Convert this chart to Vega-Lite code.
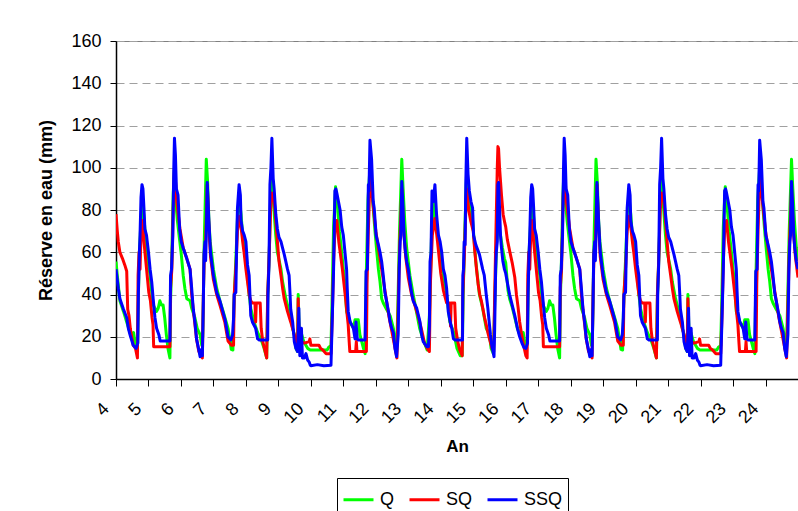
{
"$schema":"https://vega.github.io/schema/vega-lite/v6.json",
"width":682,"height":338,
"autosize":{"type":"none"},
"padding":{"left":116,"top":41,"right":0,"bottom":132},
"background":"white",
"config":{"font":"Liberation Sans","view":{"stroke":"#808080","strokeWidth":1},
"axis":{"labelFont":"Liberation Sans","titleFont":"Liberation Sans","labelColor":"#000","titleColor":"#000","domainColor":"#000","tickColor":"#000"}},
"datasets":{
"q":[
{"t":4.00,"v":55.6},{"t":4.04,"v":49},{"t":4.12,"v":37},{"t":4.23,"v":32},{"t":4.33,"v":27},{"t":4.43,"v":22},{"t":4.48,"v":21},{"t":4.52,"v":19},{"t":4.54,"v":22},{"t":4.58,"v":18},{"t":4.62,"v":16},{"t":4.67,"v":17},{"t":4.69,"v":40},{"t":4.72,"v":60},{"t":4.77,"v":75},{"t":4.80,"v":85},{"t":4.84,"v":80},{"t":4.89,"v":71},{"t":4.99,"v":55},{"t":5.05,"v":49},{"t":5.10,"v":41},{"t":5.15,"v":35},{"t":5.25,"v":32},{"t":5.30,"v":33.5},{"t":5.35,"v":37},{"t":5.40,"v":35},{"t":5.45,"v":35},{"t":5.50,"v":29},{"t":5.55,"v":21},{"t":5.60,"v":14.5},{"t":5.66,"v":10},{"t":5.68,"v":37},{"t":5.71,"v":52},{"t":5.76,"v":87},{"t":5.80,"v":100},{"t":5.84,"v":84},{"t":5.89,"v":75},{"t":5.95,"v":67},{"t":6.01,"v":59},{"t":6.07,"v":49},{"t":6.12,"v":43},{"t":6.18,"v":38},{"t":6.28,"v":37},{"t":6.33,"v":33.5},{"t":6.43,"v":29},{"t":6.50,"v":24},{"t":6.56,"v":22},{"t":6.59,"v":21},{"t":6.64,"v":16},{"t":6.67,"v":20},{"t":6.69,"v":37},{"t":6.71,"v":60},{"t":6.78,"v":104},{"t":6.82,"v":93.5},{"t":6.86,"v":75},{"t":6.90,"v":65},{"t":7.00,"v":52},{"t":7.10,"v":43},{"t":7.20,"v":37},{"t":7.30,"v":32},{"t":7.45,"v":24},{"t":7.55,"v":14},{"t":7.60,"v":13.7},{"t":7.63,"v":35},{"t":7.70,"v":60},{"t":7.75,"v":80},{"t":7.80,"v":85},{"t":7.85,"v":78},{"t":7.90,"v":68},{"t":8.00,"v":55.6},{"t":8.05,"v":49},{"t":8.10,"v":40},{"t":8.15,"v":33.5},{"t":8.25,"v":27},{"t":8.36,"v":22},{"t":8.46,"v":19},{"t":8.56,"v":14.5},{"t":8.64,"v":10},{"t":8.67,"v":37},{"t":8.72,"v":60},{"t":8.76,"v":85},{"t":8.80,"v":95},{"t":8.86,"v":81},{"t":8.92,"v":68},{"t":8.97,"v":60},{"t":9.08,"v":52},{"t":9.13,"v":46},{"t":9.23,"v":38},{"t":9.33,"v":32},{"t":9.44,"v":24},{"t":9.49,"v":21},{"t":9.54,"v":14.5},{"t":9.59,"v":13},{"t":9.61,"v":40},{"t":9.64,"v":24},{"t":9.70,"v":22},{"t":9.78,"v":17.7},{"t":9.90,"v":14.5},{"t":9.98,"v":13.7},{"t":10.50,"v":13.7},{"t":10.55,"v":15},{"t":10.62,"v":15.8},{"t":10.65,"v":35},{"t":10.70,"v":72},{"t":10.76,"v":91},{"t":10.80,"v":85},{"t":10.88,"v":70},{"t":10.95,"v":60},{"t":11.00,"v":52},{"t":11.05,"v":45},{"t":11.10,"v":32},{"t":11.21,"v":27},{"t":11.31,"v":24},{"t":11.36,"v":28},{"t":11.46,"v":28},{"t":11.51,"v":21},{"t":11.62,"v":14.5},{"t":11.67,"v":12},{"t":11.70,"v":45},{"t":11.76,"v":85},{"t":11.82,"v":100},{"t":11.87,"v":92},{"t":11.92,"v":81},{"t":11.97,"v":71},{"t":12.02,"v":62},{"t":12.08,"v":52},{"t":12.13,"v":46},{"t":12.18,"v":38},{"t":12.23,"v":36},{"t":12.33,"v":33},{"t":12.44,"v":30},{"t":12.49,"v":27},{"t":12.54,"v":24},{"t":12.59,"v":18},{"t":12.64,"v":13},{"t":12.68,"v":35},{"t":12.73,"v":70},{"t":12.80,"v":104},{"t":12.84,"v":90},{"t":12.89,"v":75},{"t":12.95,"v":62},{"t":13.05,"v":49},{"t":13.15,"v":40},{"t":13.25,"v":32},{"t":13.35,"v":24},{"t":13.45,"v":19},{"t":13.58,"v":13.7},{"t":13.65,"v":30},{"t":13.72,"v":70},{"t":13.80,"v":85},{"t":13.87,"v":71},{"t":13.98,"v":62},{"t":14.08,"v":49},{"t":14.18,"v":40},{"t":14.28,"v":27},{"t":14.40,"v":22},{"t":14.50,"v":14.5},{"t":14.60,"v":11},{"t":14.66,"v":11},{"t":14.69,"v":40},{"t":14.74,"v":70},{"t":14.80,"v":100},{"t":14.86,"v":85},{"t":14.98,"v":75},{"t":15.08,"v":55.6},{"t":15.19,"v":40},{"t":15.29,"v":33.5},{"t":15.40,"v":24},{"t":15.50,"v":21},{"t":15.55,"v":14.5},{"t":15.62,"v":12},{"t":15.66,"v":35},{"t":15.72,"v":65},{"t":15.78,"v":73},{"t":15.84,"v":68},{"t":15.90,"v":62},{"t":15.96,"v":57},
{"t":16.00,"v":55},{"t":16.07,"v":42},{"t":16.12,"v":38},{"t":16.20,"v":34},{"t":16.28,"v":29},{"t":16.36,"v":24},{"t":16.43,"v":21},{"t":16.50,"v":19},{"t":16.54,"v":22},{"t":16.58,"v":18},{"t":16.62,"v":16},{"t":16.67,"v":17},{"t":16.69,"v":40},{"t":16.72,"v":60},{"t":16.77,"v":75},{"t":16.80,"v":85},{"t":16.84,"v":80},{"t":16.89,"v":71},{"t":16.99,"v":55},{"t":17.05,"v":49},{"t":17.10,"v":41},{"t":17.15,"v":35},{"t":17.25,"v":32},{"t":17.30,"v":33.5},{"t":17.35,"v":37},{"t":17.40,"v":35},{"t":17.45,"v":35},{"t":17.50,"v":29},{"t":17.55,"v":21},{"t":17.60,"v":14.5},{"t":17.66,"v":10},{"t":17.68,"v":37},{"t":17.71,"v":52},{"t":17.76,"v":87},{"t":17.80,"v":100},{"t":17.84,"v":84},{"t":17.89,"v":75},{"t":17.95,"v":67},{"t":18.01,"v":59},{"t":18.07,"v":49},{"t":18.12,"v":43},{"t":18.18,"v":38},{"t":18.28,"v":37},{"t":18.33,"v":33.5},{"t":18.43,"v":29},{"t":18.50,"v":24},{"t":18.56,"v":22},{"t":18.59,"v":21},{"t":18.64,"v":16},{"t":18.67,"v":20},{"t":18.69,"v":37},{"t":18.71,"v":60},{"t":18.78,"v":104},{"t":18.82,"v":93.5},{"t":18.86,"v":75},{"t":18.90,"v":65},{"t":19.00,"v":52},{"t":19.10,"v":43},{"t":19.20,"v":37},{"t":19.30,"v":32},{"t":19.45,"v":24},{"t":19.55,"v":14},{"t":19.60,"v":13.7},{"t":19.63,"v":35},{"t":19.70,"v":60},{"t":19.75,"v":80},{"t":19.80,"v":85},{"t":19.85,"v":78},{"t":19.90,"v":68},{"t":20.00,"v":55.6},{"t":20.05,"v":49},{"t":20.10,"v":40},{"t":20.15,"v":33.5},{"t":20.25,"v":27},{"t":20.36,"v":22},{"t":20.46,"v":19},{"t":20.56,"v":14.5},{"t":20.64,"v":10},{"t":20.67,"v":37},{"t":20.72,"v":60},{"t":20.76,"v":85},{"t":20.80,"v":95},{"t":20.86,"v":81},{"t":20.92,"v":68},{"t":20.97,"v":60},{"t":21.08,"v":52},{"t":21.13,"v":46},{"t":21.23,"v":38},{"t":21.33,"v":32},{"t":21.44,"v":24},{"t":21.49,"v":21},{"t":21.54,"v":14.5},{"t":21.59,"v":13},{"t":21.61,"v":40},{"t":21.64,"v":24},{"t":21.70,"v":22},{"t":21.78,"v":17.7},{"t":21.90,"v":14.5},{"t":21.98,"v":13.7},{"t":22.50,"v":13.7},{"t":22.55,"v":15},{"t":22.62,"v":15.8},{"t":22.65,"v":35},{"t":22.70,"v":72},{"t":22.76,"v":91},{"t":22.80,"v":85},{"t":22.88,"v":70},{"t":22.95,"v":60},{"t":23.00,"v":52},{"t":23.05,"v":45},{"t":23.10,"v":32},{"t":23.21,"v":27},{"t":23.31,"v":24},{"t":23.36,"v":28},{"t":23.46,"v":28},{"t":23.51,"v":21},{"t":23.62,"v":14.5},{"t":23.67,"v":12},{"t":23.70,"v":45},{"t":23.76,"v":85},{"t":23.82,"v":100},{"t":23.87,"v":92},{"t":23.92,"v":81},{"t":23.97,"v":71},{"t":24.02,"v":62},{"t":24.08,"v":52},{"t":24.13,"v":46},{"t":24.18,"v":38},{"t":24.23,"v":36},{"t":24.33,"v":33},{"t":24.44,"v":30},{"t":24.49,"v":27},{"t":24.54,"v":24},{"t":24.59,"v":18},{"t":24.64,"v":13},{"t":24.68,"v":35},{"t":24.73,"v":70},{"t":24.80,"v":104},{"t":24.84,"v":90},{"t":24.89,"v":75},{"t":24.95,"v":62},{"t":25.00,"v":56}
],
"sq":[
{"t":4.00,"v":78},{"t":4.04,"v":70},{"t":4.07,"v":65},{"t":4.12,"v":60},{"t":4.20,"v":57},{"t":4.27,"v":54},{"t":4.33,"v":51},{"t":4.36,"v":33},{"t":4.40,"v":30},{"t":4.44,"v":24},{"t":4.47,"v":21},{"t":4.53,"v":16},{"t":4.60,"v":14.5},{"t":4.66,"v":10},{"t":4.68,"v":49},{"t":4.71,"v":60},{"t":4.74,"v":52},{"t":4.77,"v":68},{"t":4.81,"v":75},{"t":4.86,"v":65},{"t":4.91,"v":57},{"t":4.96,"v":49},{"t":5.01,"v":41},{"t":5.06,"v":37},{"t":5.11,"v":29},{"t":5.14,"v":25.6},{"t":5.16,"v":15.3},{"t":5.66,"v":15.3},{"t":5.68,"v":43},{"t":5.72,"v":52},{"t":5.76,"v":80},{"t":5.80,"v":100},{"t":5.84,"v":92},{"t":5.87,"v":84},{"t":5.97,"v":71},{"t":6.07,"v":62},{"t":6.18,"v":57},{"t":6.28,"v":52},{"t":6.33,"v":40},{"t":6.40,"v":30},{"t":6.48,"v":19},{"t":6.55,"v":13},{"t":6.62,"v":11.4},{"t":6.66,"v":10},{"t":6.69,"v":40},{"t":6.72,"v":60},{"t":6.76,"v":65},{"t":6.81,"v":92},{"t":6.86,"v":72},{"t":6.91,"v":58},{"t":7.00,"v":47},{"t":7.10,"v":40},{"t":7.20,"v":35},{"t":7.35,"v":27},{"t":7.45,"v":18},{"t":7.55,"v":16},{"t":7.62,"v":16},{"t":7.64,"v":40},{"t":7.70,"v":55},{"t":7.74,"v":70},{"t":7.80,"v":77},{"t":7.85,"v":72},{"t":7.90,"v":65},{"t":7.95,"v":59},{"t":8.00,"v":52},{"t":8.05,"v":46},{"t":8.10,"v":40},{"t":8.15,"v":37},{"t":8.20,"v":36},{"t":8.28,"v":36},{"t":8.30,"v":27},{"t":8.32,"v":36},{"t":8.44,"v":36},{"t":8.47,"v":24},{"t":8.52,"v":17.7},{"t":8.57,"v":14.5},{"t":8.64,"v":10},{"t":8.67,"v":40},{"t":8.72,"v":60},{"t":8.76,"v":80},{"t":8.80,"v":88},{"t":8.86,"v":87},{"t":8.92,"v":75},{"t":8.97,"v":65},{"t":9.02,"v":55.6},{"t":9.08,"v":49},{"t":9.13,"v":43},{"t":9.18,"v":38},{"t":9.28,"v":32},{"t":9.38,"v":27},{"t":9.49,"v":21},{"t":9.54,"v":18},{"t":9.59,"v":15},{"t":9.61,"v":38},{"t":9.63,"v":21},{"t":9.70,"v":17.7},{"t":9.80,"v":17},{"t":9.95,"v":17.7},{"t":9.97,"v":19},{"t":10.00,"v":16},{"t":10.25,"v":16},{"t":10.30,"v":14.5},{"t":10.37,"v":13.7},{"t":10.47,"v":12},{"t":10.62,"v":12},{"t":10.66,"v":30},{"t":10.70,"v":55},{"t":10.74,"v":70},{"t":10.80,"v":75},{"t":10.86,"v":65},{"t":10.92,"v":58},{"t":10.97,"v":52},{"t":11.02,"v":45},{"t":11.07,"v":38},{"t":11.12,"v":30},{"t":11.15,"v":25.6},{"t":11.18,"v":17.7},{"t":11.20,"v":13},{"t":11.38,"v":13},{"t":11.40,"v":17.7},{"t":11.42,"v":13},{"t":11.71,"v":13},{"t":11.73,"v":45},{"t":11.77,"v":70},{"t":11.82,"v":95},{"t":11.87,"v":90},{"t":11.92,"v":82},{"t":12.00,"v":70},{"t":12.10,"v":60},{"t":12.20,"v":50},{"t":12.30,"v":40},{"t":12.40,"v":30},{"t":12.50,"v":22},{"t":12.60,"v":14},{"t":12.65,"v":10},{"t":12.69,"v":35},{"t":12.73,"v":60},{"t":12.80,"v":90},{"t":12.86,"v":70},{"t":12.92,"v":58},{"t":13.00,"v":48},{"t":13.10,"v":40},{"t":13.20,"v":35},{"t":13.30,"v":30},{"t":13.40,"v":24},{"t":13.50,"v":17},{"t":13.60,"v":14},{"t":13.65,"v":13},{"t":13.68,"v":45},{"t":13.74,"v":68},{"t":13.82,"v":76},{"t":13.90,"v":65},{"t":14.00,"v":50},{"t":14.08,"v":42},{"t":14.18,"v":36},{"t":14.28,"v":36},{"t":14.30,"v":25},{"t":14.32,"v":36},{"t":14.43,"v":36},{"t":14.46,"v":24},{"t":14.52,"v":18},{"t":14.58,"v":14},{"t":14.66,"v":11},{"t":14.68,"v":40},{"t":14.73,"v":60},{"t":14.78,"v":85},{"t":14.80,"v":90},{"t":14.86,"v":80},{"t":14.92,"v":75},{"t":15.00,"v":70},{"t":15.05,"v":60},{"t":15.10,"v":52},{"t":15.15,"v":45},{"t":15.20,"v":40},{"t":15.25,"v":37},{"t":15.30,"v":33},{"t":15.35,"v":29},{"t":15.40,"v":25.6},{"t":15.45,"v":22},{"t":15.50,"v":19},{"t":15.58,"v":14.5},{"t":15.63,"v":13},{"t":15.66,"v":40},{"t":15.70,"v":70},{"t":15.74,"v":100},{"t":15.76,"v":110},{"t":15.78,"v":109},{"t":15.81,"v":100},{"t":15.84,"v":93.5},{"t":15.87,"v":87},{"t":15.92,"v":78},{"t":15.97,"v":74},
{"t":16.00,"v":72},{"t":16.05,"v":66},{"t":16.13,"v":60},{"t":16.20,"v":55},{"t":16.28,"v":48},{"t":16.33,"v":40},{"t":16.38,"v":34},{"t":16.43,"v":27},{"t":16.48,"v":22},{"t":16.55,"v":16},{"t":16.62,"v":11},{"t":16.66,"v":10},{"t":16.68,"v":49},{"t":16.71,"v":60},{"t":16.74,"v":52},{"t":16.77,"v":68},{"t":16.81,"v":75},{"t":16.86,"v":65},{"t":16.91,"v":57},{"t":16.96,"v":49},{"t":17.01,"v":41},{"t":17.06,"v":37},{"t":17.11,"v":29},{"t":17.14,"v":25.6},{"t":17.16,"v":15.3},{"t":17.66,"v":15.3},{"t":17.68,"v":43},{"t":17.72,"v":52},{"t":17.76,"v":80},{"t":17.80,"v":100},{"t":17.84,"v":92},{"t":17.87,"v":84},{"t":17.97,"v":71},{"t":18.07,"v":62},{"t":18.18,"v":57},{"t":18.28,"v":52},{"t":18.33,"v":40},{"t":18.40,"v":30},{"t":18.48,"v":19},{"t":18.55,"v":13},{"t":18.62,"v":11.4},{"t":18.66,"v":10},{"t":18.69,"v":40},{"t":18.72,"v":60},{"t":18.76,"v":65},{"t":18.81,"v":92},{"t":18.86,"v":72},{"t":18.91,"v":58},{"t":19.00,"v":47},{"t":19.10,"v":40},{"t":19.20,"v":35},{"t":19.35,"v":27},{"t":19.45,"v":18},{"t":19.55,"v":16},{"t":19.62,"v":16},{"t":19.64,"v":40},{"t":19.70,"v":55},{"t":19.74,"v":70},{"t":19.80,"v":77},{"t":19.85,"v":72},{"t":19.90,"v":65},{"t":19.95,"v":59},{"t":20.00,"v":52},{"t":20.05,"v":46},{"t":20.10,"v":40},{"t":20.15,"v":37},{"t":20.20,"v":36},{"t":20.28,"v":36},{"t":20.30,"v":27},{"t":20.32,"v":36},{"t":20.44,"v":36},{"t":20.47,"v":24},{"t":20.52,"v":17.7},{"t":20.57,"v":14.5},{"t":20.64,"v":10},{"t":20.67,"v":40},{"t":20.72,"v":60},{"t":20.76,"v":80},{"t":20.80,"v":88},{"t":20.86,"v":87},{"t":20.92,"v":75},{"t":20.97,"v":65},{"t":21.02,"v":55.6},{"t":21.08,"v":49},{"t":21.13,"v":43},{"t":21.18,"v":38},{"t":21.28,"v":32},{"t":21.38,"v":27},{"t":21.49,"v":21},{"t":21.54,"v":18},{"t":21.59,"v":15},{"t":21.61,"v":38},{"t":21.63,"v":21},{"t":21.70,"v":17.7},{"t":21.80,"v":17},{"t":21.95,"v":17.7},{"t":21.97,"v":19},{"t":22.00,"v":16},{"t":22.25,"v":16},{"t":22.30,"v":14.5},{"t":22.37,"v":13.7},{"t":22.47,"v":12},{"t":22.62,"v":12},{"t":22.66,"v":30},{"t":22.70,"v":55},{"t":22.74,"v":70},{"t":22.80,"v":75},{"t":22.86,"v":65},{"t":22.92,"v":58},{"t":22.97,"v":52},{"t":23.02,"v":45},{"t":23.07,"v":38},{"t":23.12,"v":30},{"t":23.15,"v":25.6},{"t":23.18,"v":17.7},{"t":23.20,"v":13},{"t":23.38,"v":13},{"t":23.40,"v":17.7},{"t":23.42,"v":13},{"t":23.71,"v":13},{"t":23.73,"v":45},{"t":23.77,"v":70},{"t":23.82,"v":95},{"t":23.87,"v":90},{"t":23.92,"v":82},{"t":24.00,"v":70},{"t":24.10,"v":60},{"t":24.20,"v":50},{"t":24.30,"v":40},{"t":24.40,"v":30},{"t":24.50,"v":22},{"t":24.60,"v":14},{"t":24.65,"v":10},{"t":24.69,"v":35},{"t":24.73,"v":60},{"t":24.80,"v":90},{"t":24.86,"v":70},{"t":24.92,"v":58},{"t":25.00,"v":48}
],
"ssq":[
{"t":4.00,"v":52},{"t":4.07,"v":43},{"t":4.12,"v":38},{"t":4.23,"v":33},{"t":4.33,"v":29},{"t":4.38,"v":24},{"t":4.43,"v":21},{"t":4.53,"v":16},{"t":4.62,"v":14.5},{"t":4.67,"v":17},{"t":4.69,"v":41},{"t":4.72,"v":60},{"t":4.74,"v":68},{"t":4.77,"v":86},{"t":4.80,"v":92},{"t":4.83,"v":90},{"t":4.86,"v":81},{"t":4.89,"v":71},{"t":4.94,"v":68},{"t":5.00,"v":60},{"t":5.05,"v":52},{"t":5.10,"v":46},{"t":5.15,"v":37},{"t":5.20,"v":29},{"t":5.25,"v":24},{"t":5.32,"v":21},{"t":5.36,"v":18},{"t":5.66,"v":18},{"t":5.68,"v":49},{"t":5.71,"v":52},{"t":5.75,"v":68},{"t":5.78,"v":100},{"t":5.80,"v":114},{"t":5.83,"v":106},{"t":5.86,"v":90},{"t":5.91,"v":87},{"t":5.96,"v":71},{"t":6.01,"v":65},{"t":6.07,"v":62},{"t":6.18,"v":57},{"t":6.28,"v":52},{"t":6.33,"v":43},{"t":6.38,"v":33},{"t":6.43,"v":27},{"t":6.48,"v":19},{"t":6.54,"v":14.5},{"t":6.59,"v":10.5},{"t":6.63,"v":14},{"t":6.66,"v":11},{"t":6.69,"v":37},{"t":6.71,"v":59},{"t":6.74,"v":65},{"t":6.76,"v":56},{"t":6.78,"v":68},{"t":6.81,"v":93},{"t":6.86,"v":75},{"t":6.91,"v":60},{"t":7.00,"v":49},{"t":7.10,"v":41},{"t":7.20,"v":37},{"t":7.36,"v":28},{"t":7.45,"v":20},{"t":7.54,"v":18.5},{"t":7.59,"v":21},{"t":7.62,"v":29},{"t":7.64,"v":40},{"t":7.69,"v":41},{"t":7.72,"v":68},{"t":7.74,"v":81},{"t":7.79,"v":92},{"t":7.83,"v":87},{"t":7.85,"v":75},{"t":7.90,"v":70},{"t":7.95,"v":68},{"t":8.00,"v":65},{"t":8.05,"v":54},{"t":8.10,"v":49},{"t":8.15,"v":30},{"t":8.20,"v":27},{"t":8.30,"v":24},{"t":8.36,"v":19},{"t":8.41,"v":18.5},{"t":8.67,"v":18.5},{"t":8.68,"v":40},{"t":8.71,"v":54},{"t":8.74,"v":92},{"t":8.77,"v":100},{"t":8.80,"v":114},{"t":8.84,"v":95},{"t":8.87,"v":90},{"t":8.92,"v":78},{"t":8.97,"v":71},{"t":9.02,"v":67},{"t":9.08,"v":65},{"t":9.13,"v":62},{"t":9.18,"v":59},{"t":9.23,"v":55.6},{"t":9.28,"v":52},{"t":9.33,"v":49},{"t":9.36,"v":40},{"t":9.38,"v":33},{"t":9.44,"v":27},{"t":9.49,"v":17.7},{"t":9.54,"v":14.5},{"t":9.59,"v":13},{"t":9.61,"v":21},{"t":9.63,"v":33.5},{"t":9.66,"v":11},{"t":9.71,"v":24},{"t":9.74,"v":10},{"t":9.80,"v":10},{"t":9.85,"v":12},{"t":9.90,"v":9},{"t":9.95,"v":8},{"t":9.98,"v":6.6},{"t":10.00,"v":6.3},{"t":10.20,"v":6.8},{"t":10.40,"v":6.3},{"t":10.62,"v":6.5},{"t":10.66,"v":29},{"t":10.70,"v":52},{"t":10.74,"v":89},{"t":10.77,"v":90},{"t":10.80,"v":88},{"t":10.85,"v":84},{"t":10.90,"v":80},{"t":10.95,"v":72},{"t":11.00,"v":68},{"t":11.05,"v":60},{"t":11.10,"v":52},{"t":11.12,"v":43},{"t":11.15,"v":32},{"t":11.21,"v":27},{"t":11.26,"v":25.6},{"t":11.31,"v":24},{"t":11.36,"v":19},{"t":11.39,"v":27},{"t":11.43,"v":19},{"t":11.46,"v":18.5},{"t":11.67,"v":18.5},{"t":11.70,"v":51},{"t":11.74,"v":52},{"t":11.77,"v":92},{"t":11.79,"v":89},{"t":11.82,"v":113},{"t":11.87,"v":104},{"t":11.90,"v":92},{"t":11.92,"v":84},{"t":11.95,"v":81},{"t":12.01,"v":68},{"t":12.08,"v":63.5},{"t":12.13,"v":60},{"t":12.18,"v":55.6},{"t":12.23,"v":49},{"t":12.28,"v":41},{"t":12.33,"v":37},{"t":12.39,"v":32},{"t":12.44,"v":27},{"t":12.49,"v":24},{"t":12.54,"v":22},{"t":12.59,"v":14.5},{"t":12.64,"v":10.6},{"t":12.69,"v":21},{"t":12.72,"v":52},{"t":12.75,"v":65},{"t":12.77,"v":68},{"t":12.80,"v":93.5},{"t":12.83,"v":84},{"t":12.87,"v":68},{"t":12.90,"v":62},{"t":12.95,"v":55.6},{"t":13.00,"v":52},{"t":13.05,"v":46},{"t":13.10,"v":41},{"t":13.15,"v":37},{"t":13.26,"v":33.5},{"t":13.36,"v":27},{"t":13.41,"v":21},{"t":13.46,"v":17.7},{"t":13.57,"v":15.3},{"t":13.62,"v":15.3},{"t":13.65,"v":25},{"t":13.67,"v":55.6},{"t":13.70,"v":60},{"t":13.73,"v":89},{"t":13.77,"v":84},{"t":13.82,"v":92},{"t":13.87,"v":78},{"t":13.93,"v":68},{"t":13.98,"v":65},{"t":14.03,"v":60},{"t":14.08,"v":52},{"t":14.13,"v":49},{"t":14.18,"v":43},{"t":14.23,"v":32},{"t":14.29,"v":27},{"t":14.34,"v":24},{"t":14.39,"v":19},{"t":14.44,"v":18.5},{"t":14.67,"v":18.5},{"t":14.68,"v":49},{"t":14.70,"v":52},{"t":14.72,"v":65},{"t":14.75,"v":63.5},{"t":14.77,"v":92},{"t":14.80,"v":114},{"t":14.84,"v":97},{"t":14.88,"v":89},{"t":14.93,"v":84},{"t":14.98,"v":81},{"t":15.01,"v":68},{"t":15.08,"v":63.5},{"t":15.19,"v":59},{"t":15.24,"v":55.6},{"t":15.29,"v":52},{"t":15.34,"v":49},{"t":15.40,"v":40},{"t":15.45,"v":33.5},{"t":15.50,"v":25.6},{"t":15.53,"v":21},{"t":15.57,"v":16},{"t":15.64,"v":10.6},{"t":15.66,"v":24},{"t":15.69,"v":52},{"t":15.71,"v":60},{"t":15.74,"v":65},{"t":15.76,"v":92},{"t":15.78,"v":93},{"t":15.81,"v":81},{"t":15.84,"v":68},{"t":15.86,"v":63.5},{"t":15.91,"v":56},{"t":15.96,"v":52},
{"t":16.00,"v":50},{"t":16.07,"v":44},{"t":16.12,"v":40},{"t":16.20,"v":35},{"t":16.28,"v":30},{"t":16.36,"v":24},{"t":16.43,"v":20},{"t":16.50,"v":17},{"t":16.56,"v":15},{"t":16.62,"v":14.5},{"t":16.67,"v":17},{"t":16.69,"v":41},{"t":16.72,"v":60},{"t":16.74,"v":68},{"t":16.77,"v":86},{"t":16.80,"v":92},{"t":16.83,"v":90},{"t":16.86,"v":81},{"t":16.89,"v":71},{"t":16.94,"v":68},{"t":17.00,"v":60},{"t":17.05,"v":52},{"t":17.10,"v":46},{"t":17.15,"v":37},{"t":17.20,"v":29},{"t":17.25,"v":24},{"t":17.32,"v":21},{"t":17.36,"v":18},{"t":17.66,"v":18},{"t":17.68,"v":49},{"t":17.71,"v":52},{"t":17.75,"v":68},{"t":17.78,"v":100},{"t":17.80,"v":114},{"t":17.83,"v":106},{"t":17.86,"v":90},{"t":17.91,"v":87},{"t":17.96,"v":71},{"t":18.01,"v":65},{"t":18.07,"v":62},{"t":18.18,"v":57},{"t":18.28,"v":52},{"t":18.33,"v":43},{"t":18.38,"v":33},{"t":18.43,"v":27},{"t":18.48,"v":19},{"t":18.54,"v":14.5},{"t":18.59,"v":10.5},{"t":18.63,"v":14},{"t":18.66,"v":11},{"t":18.69,"v":37},{"t":18.71,"v":59},{"t":18.74,"v":65},{"t":18.76,"v":56},{"t":18.78,"v":68},{"t":18.81,"v":93},{"t":18.86,"v":75},{"t":18.91,"v":60},{"t":19.00,"v":49},{"t":19.10,"v":41},{"t":19.20,"v":37},{"t":19.36,"v":28},{"t":19.45,"v":20},{"t":19.54,"v":18.5},{"t":19.59,"v":21},{"t":19.62,"v":29},{"t":19.64,"v":40},{"t":19.69,"v":41},{"t":19.72,"v":68},{"t":19.74,"v":81},{"t":19.79,"v":92},{"t":19.83,"v":87},{"t":19.85,"v":75},{"t":19.90,"v":70},{"t":19.95,"v":68},{"t":20.00,"v":65},{"t":20.05,"v":54},{"t":20.10,"v":49},{"t":20.15,"v":30},{"t":20.20,"v":27},{"t":20.30,"v":24},{"t":20.36,"v":19},{"t":20.41,"v":18.5},{"t":20.67,"v":18.5},{"t":20.68,"v":40},{"t":20.71,"v":54},{"t":20.74,"v":92},{"t":20.77,"v":100},{"t":20.80,"v":114},{"t":20.84,"v":95},{"t":20.87,"v":90},{"t":20.92,"v":78},{"t":20.97,"v":71},{"t":21.02,"v":67},{"t":21.08,"v":65},{"t":21.13,"v":62},{"t":21.18,"v":59},{"t":21.23,"v":55.6},{"t":21.28,"v":52},{"t":21.33,"v":49},{"t":21.36,"v":40},{"t":21.38,"v":33},{"t":21.44,"v":27},{"t":21.49,"v":17.7},{"t":21.54,"v":14.5},{"t":21.59,"v":13},{"t":21.61,"v":21},{"t":21.63,"v":33.5},{"t":21.66,"v":11},{"t":21.71,"v":24},{"t":21.74,"v":10},{"t":21.80,"v":10},{"t":21.85,"v":12},{"t":21.90,"v":9},{"t":21.95,"v":8},{"t":21.98,"v":6.6},{"t":22.00,"v":6.3},{"t":22.20,"v":6.8},{"t":22.40,"v":6.3},{"t":22.62,"v":6.5},{"t":22.66,"v":29},{"t":22.70,"v":52},{"t":22.74,"v":89},{"t":22.77,"v":90},{"t":22.80,"v":88},{"t":22.85,"v":84},{"t":22.90,"v":80},{"t":22.95,"v":72},{"t":23.00,"v":68},{"t":23.05,"v":60},{"t":23.10,"v":52},{"t":23.12,"v":43},{"t":23.15,"v":32},{"t":23.21,"v":27},{"t":23.26,"v":25.6},{"t":23.31,"v":24},{"t":23.36,"v":19},{"t":23.39,"v":27},{"t":23.43,"v":19},{"t":23.46,"v":18.5},{"t":23.67,"v":18.5},{"t":23.70,"v":51},{"t":23.74,"v":52},{"t":23.77,"v":92},{"t":23.79,"v":89},{"t":23.82,"v":113},{"t":23.87,"v":104},{"t":23.90,"v":92},{"t":23.92,"v":84},{"t":23.95,"v":81},{"t":24.01,"v":68},{"t":24.08,"v":63.5},{"t":24.13,"v":60},{"t":24.18,"v":55.6},{"t":24.23,"v":49},{"t":24.28,"v":41},{"t":24.33,"v":37},{"t":24.39,"v":32},{"t":24.44,"v":27},{"t":24.49,"v":24},{"t":24.54,"v":22},{"t":24.59,"v":14.5},{"t":24.64,"v":10.6},{"t":24.69,"v":21},{"t":24.72,"v":52},{"t":24.75,"v":65},{"t":24.77,"v":68},{"t":24.80,"v":93.5},{"t":24.83,"v":84},{"t":24.87,"v":68},{"t":24.90,"v":62},{"t":24.95,"v":55.6},{"t":25.00,"v":52}
]},
"encoding":{
"x":{"field":"t","type":"quantitative","scale":{"domain":[4,25],"nice":false,"zero":false},
"axis":{"values":[4,5,6,7,8,9,10,11,12,13,14,15,16,17,18,19,20,21,22,23,24],"title":"An","labelAngle":-45,"labelAlign":"right","labelBaseline":"middle","labelOffset":-10,"labelPadding":20,"tickSize":7,"grid":false,"labelFontSize":18,"titleFontSize":17,"titleFontWeight":"bold","titlePadding":12,"labelFlush":false,"labelOverlap":false,"domainWidth":1.5}},
"y":{"field":"v","type":"quantitative","scale":{"domain":[0,160],"nice":false},
"axis":{"values":[0,20,40,60,80,100,120,140,160],"title":"Réserve en eau (mm)","labelFontSize":18,"titleFontSize":18,"titleFontWeight":"bold","titlePadding":15,"tickSize":6,"labelPadding":9,"grid":true,"gridDash":[8,5],"gridColor":"#a0a0a0","gridWidth":1,"domainWidth":1.5}}
},
"layer":[
{"data":{"name":"q"},"mark":{"type":"line","strokeWidth":3,"strokeJoin":"round","clip":true},
"encoding":{"color":{"datum":"Q","scale":{"domain":["Q","SQ","SSQ"],"range":["#00FF00","#FF0000","#0000FF"]},
"legend":{"orient":"none","legendX":221,"legendY":437,"direction":"horizontal","title":null,"symbolType":"stroke","symbolSize":900,"symbolStrokeWidth":3,"labelFontSize":18,"labelFont":"Liberation Sans","labelColor":"#000","labelOffset":5,"columnPadding":8,"padding":5,"strokeColor":"#000","fillColor":"white"}}}},
{"data":{"name":"sq"},"mark":{"type":"line","strokeWidth":3,"strokeJoin":"round","clip":true},"encoding":{"color":{"datum":"SQ"}}},
{"data":{"name":"ssq"},"mark":{"type":"line","strokeWidth":3,"strokeJoin":"round","clip":true},"encoding":{"color":{"datum":"SSQ"}}}
]
}
